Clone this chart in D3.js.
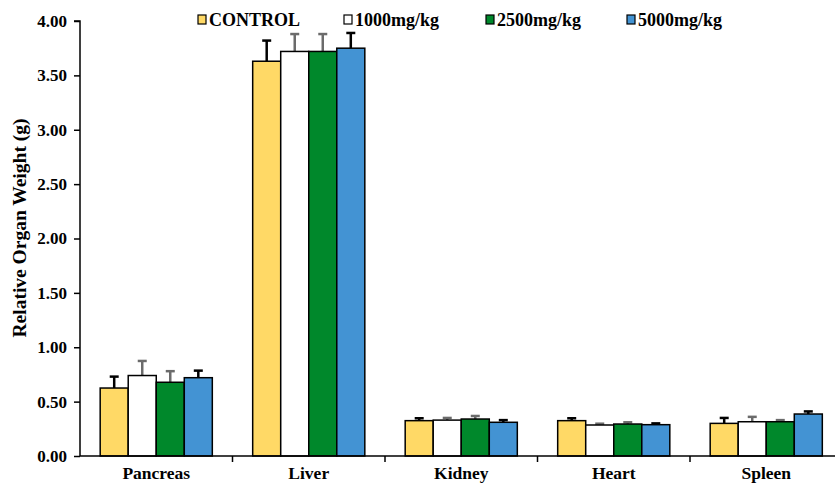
<!DOCTYPE html>
<html><head><meta charset="utf-8">
<script src="https://cdn.jsdelivr.net/npm/d3@7"></script>
<style>body{margin:0;background:#fff}svg{display:block}</style>
</head><body>
<svg id="c" width="835" height="484"></svg>
<script>
const categories = ["Pancreas","Liver","Kidney","Heart","Spleen"];
const seriesNames = ["CONTROL","1000mg/kg","2500mg/kg","5000mg/kg"];
const control   = [0.625, 3.63, 0.325, 0.325, 0.300];
const dose1000  = [0.740, 3.72, 0.330, 0.285, 0.315];
const dose2500  = [0.678, 3.72, 0.340, 0.294, 0.315];
const dose5000  = [0.720, 3.75, 0.310, 0.288, 0.386];
const errControl = [0.105, 0.19, 0.022, 0.022, 0.050];
const err1000    = [0.134, 0.16, 0.020, 0.012, 0.045];
const err2500    = [0.102, 0.16, 0.028, 0.016, 0.015];
const err5000    = [0.065, 0.14, 0.020, 0.012, 0.024];
const yTicks = [0,0.5,1,1.5,2,2.5,3,3.5,4];

const values = [control, dose1000, dose2500, dose5000];
const errors = [errControl, err1000, err2500, err5000];
const fills = ["#FFD966","#FFFFFF","#00882B","#4393D3"];
const errColors = ["#000000","#6b6b6b","#6b6b6b","#000000"];

const svg = d3.select("#c");
const font = "'Liberation Serif','Times New Roman',serif";
const x0 = 80, x1 = 842.5, yTop = 21, yBot = 456;
const x = d3.scaleBand().domain(categories).range([x0, x1]).paddingInner(0).paddingOuter(0);
const xs = d3.scaleBand().domain(seriesNames).range([0, x.bandwidth()]).paddingOuter(0.72).paddingInner(0);
const y = d3.scaleLinear().domain([0,4]).range([yBot, yTop]);

// bars
seriesNames.forEach((s, si) => {
  const g = svg.append("g");
  categories.forEach((c, ci) => {
    const v = values[si][ci], e = errors[si][ci];
    const bx = x(c) + xs(s), bw = xs.bandwidth();
    g.append("line").attr("x1", bx+bw/2).attr("x2", bx+bw/2)
      .attr("y1", y(v)).attr("y2", y(v+e))
      .attr("stroke", errColors[si]).attr("stroke-width", 2.5);
    g.append("line").attr("x1", bx+bw/2-4.5).attr("x2", bx+bw/2+4.5)
      .attr("y1", y(v+e)).attr("y2", y(v+e))
      .attr("stroke", errColors[si]).attr("stroke-width", 2.5);
    g.append("rect").attr("x", bx).attr("width", bw)
      .attr("y", y(v)).attr("height", y(0)-y(v))
      .attr("fill", fills[si]).attr("stroke", "#000").attr("stroke-width", 1.5);
  });
});

// y axis
const yAxis = d3.axisLeft(y).tickValues(yTicks).tickFormat(d3.format(".2f")).tickSize(6).tickPadding(7);
const ya = svg.append("g").attr("transform", `translate(${x0},0)`).call(yAxis);
ya.select(".domain").attr("d", `M-6,${yTop}H0V${yBot}`).attr("stroke","#000").attr("stroke-width",1.5);
ya.selectAll(".tick line").attr("stroke","#000").attr("stroke-width",1.5);
ya.selectAll("text").attr("font-family", font).attr("font-weight","bold").attr("font-size",17).attr("fill","#000");

// x axis
const xa = svg.append("g").attr("transform", `translate(0,${yBot})`);
xa.append("line").attr("x1", x0).attr("x2", 835).attr("y1",0).attr("y2",0).attr("stroke","#000").attr("stroke-width",1.5);
categories.forEach((c,i) => {
  if (i>0) xa.append("line").attr("x1", x(c)).attr("x2", x(c)).attr("y1",0).attr("y2",6).attr("stroke","#000").attr("stroke-width",1.5);
  xa.append("text").attr("x", x(c)+x.bandwidth()/2).attr("y", 23)
    .attr("text-anchor","middle").attr("font-family",font).attr("font-weight","bold").attr("font-size",17.5).text(c);
});

// y title
svg.append("text").attr("transform","translate(26,228) rotate(-90)").attr("text-anchor","middle")
  .attr("font-family",font).attr("font-weight","bold").attr("font-size",19.5).text("Relative Organ Weight (g)");

// legend
const legX = [198, 344, 486, 627];
const leg = svg.append("g");
seriesNames.forEach((s,i) => {
  leg.append("rect").attr("x", legX[i]).attr("y", 15).attr("width", 8).attr("height", 9)
    .attr("fill", fills[i]).attr("stroke","#000").attr("stroke-width",1.2);
  leg.append("text").attr("x", legX[i]+11).attr("y", 26).attr("font-family",font)
    .attr("font-weight","bold").attr("font-size",18).text(s);
});
</script>
</body></html>
